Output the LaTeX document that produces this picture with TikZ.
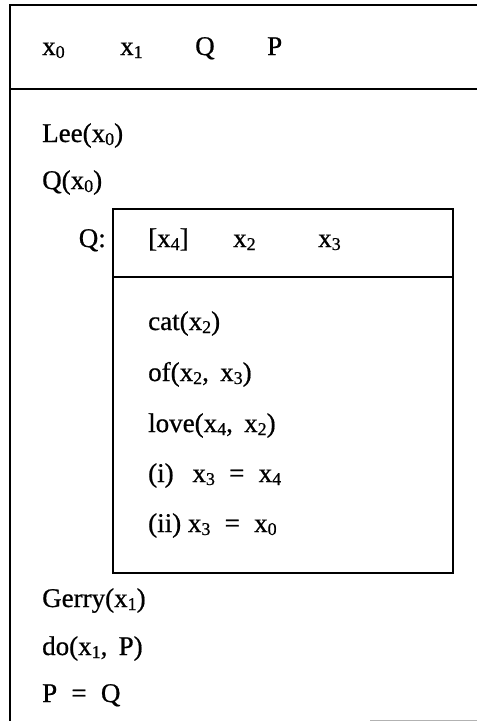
\documentclass[tikz,border=0pt]{standalone}
\usepackage{fontspec}
\setmainfont{Liberation Serif}[FakeBold=0.7]
\newcommand{\sbx}[1]{\raisebox{-3pt}{\fontsize{18}{18}\selectfont #1}}
\newcommand{\xv}[1]{x\sbx{#1}}
\begin{document}
\begin{tikzpicture}[x=1pt,y=-1pt,
  frame/.style={line width=1.8pt,black},
  txt/.style={anchor=base west,inner sep=0pt,font=\fontsize{27}{27}\selectfont}]
\useasboundingbox (0,0) rectangle (477,721);
% outer box
\draw[frame] (10,721) -- (10,5) -- (477,5);
\draw[frame] (10,89) -- (477,89);
\draw[gray!60,line width=1pt] (370,720) -- (477,720);
% inner box
\draw[frame] (113,209) rectangle (453,573);
\draw[frame] (113,277) -- (453,277);
% header
\node[txt] (h0) at (42,55) {\xv{0}};
\node[txt] (h1) at (120,55) {\xv{1}};
\node[txt] (hQ) at (195,55) {Q};
\node[txt] (hP) at (267,55) {P};
% conditions
\node[txt] (lee) at (42,142) {Lee(\xv{0})};
\node[txt] (qx) at (42,189) {Q(\xv{0})};
\node[txt,anchor=base east] (qlab) at (106,247) {Q:};
\node[txt] (i4) at (148,247) {[\xv{4}]};
\node[txt] (i2) at (233,247) {\xv{2}};
\node[txt] (i3) at (318,247) {\xv{3}};
\node[txt] (cat) at (148,330) {cat(\xv{2})};
\node[txt] (of) at (148,381) {of(\xv{2},\, \xv{3})};
\node[txt] (love) at (148,432) {love(\xv{4},\, \xv{2})};
\node[txt] (ci) at (148,482) {(i)\;\, \xv{3} \;=\; \xv{4}};
\node[txt] (cii) at (148,532) {(ii) \xv{3} \;=\; \xv{0}};
\node[txt] (gerry) at (42,607) {Gerry(\xv{1})};
\node[txt] (do) at (42,655) {do(\xv{1},\, P)};
\node[txt] (pq) at (42,702) {P \;=\; Q};
\end{tikzpicture}
\end{document}
